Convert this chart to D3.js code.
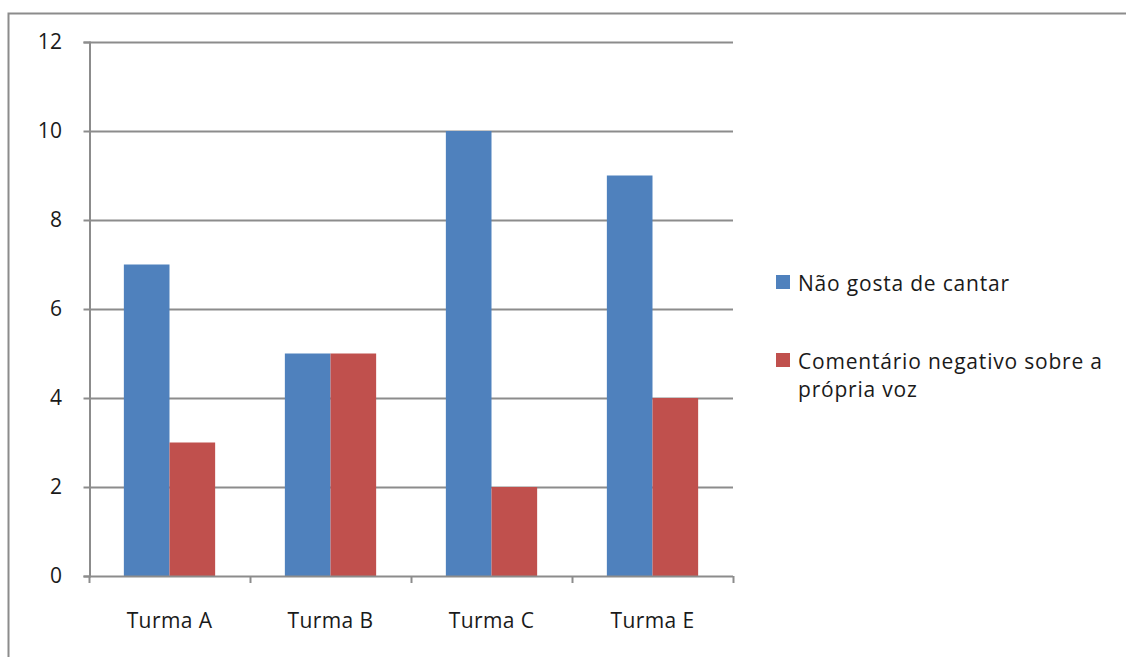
<!DOCTYPE html>
<html>
<head>
<meta charset="utf-8">
<script src="https://cdn.jsdelivr.net/npm/d3@7"></script>
<style>
  html, body { margin: 0; padding: 0; background: #fff; }
  svg { display: block; }
  text { font-family: "Open Sans", Lato, sans-serif; fill: #1a1a1a; }
</style>
</head>
<body>
<svg id="chart" width="1126" height="657"></svg>
<script>
// Data
const categories = ["Turma A", "Turma B", "Turma C", "Turma E"];
const seriesNames = ["Não gosta de cantar", "Comentário negativo sobre a própria voz"];
const naoGosta = [7, 5, 10, 9];
const comentarioNegativo = [3, 5, 2, 4];
const yTicks = [0, 2, 4, 6, 8, 10, 12];
const colors = ["#4F81BD", "#C0504D"];

const svg = d3.select("#chart");
const W = 1126, H = 657;
const FONT = "21px";

// Outer chart frame
svg.append("path")
  .attr("d", `M8.5,${H} V13.5 H${W}`)
  .attr("fill", "none")
  .attr("stroke", "#8c8c8c")
  .attr("stroke-width", 2);

const plot = { left: 89, right: 733, top: 42, bottom: 576 };

const x = d3.scaleBand()
  .domain(categories)
  .range([plot.left, plot.right])
  .paddingInner(0.433)
  .paddingOuter(0.2165);

const x1 = d3.scaleBand()
  .domain([0, 1])
  .range([0, x.bandwidth()]);

const y = d3.scaleLinear()
  .domain([0, 12])
  .range([plot.bottom, plot.top]);

// Horizontal gridlines
svg.append("g")
  .selectAll("line")
  .data(yTicks.filter(d => d > 0))
  .join("line")
  .attr("x1", plot.left)
  .attr("x2", plot.right)
  .attr("y1", d => Math.round(y(d)) + 0.5)
  .attr("y2", d => Math.round(y(d)) + 0.5)
  .attr("stroke", "#8c8c8c")
  .attr("stroke-width", 2);

// Bars
const rows = categories.map((c, i) => ({ cat: c, vals: [naoGosta[i], comentarioNegativo[i]] }));
const groups = svg.append("g")
  .selectAll("g")
  .data(rows)
  .join("g")
  .attr("transform", d => `translate(${x(d.cat)},0)`);

groups.selectAll("rect")
  .data(d => d.vals.map((v, k) => ({ v, k })))
  .join("rect")
  .attr("x", d => x1(d.k))
  .attr("width", x1.bandwidth())
  .attr("y", d => y(d.v))
  .attr("height", d => y(0) - y(d.v))
  .attr("fill", d => colors[d.k]);

// Y axis
const yAxis = svg.append("g")
  .attr("transform", `translate(${plot.left + 0.5},0)`)
  .call(d3.axisLeft(y).tickValues(yTicks).tickSize(6).tickPadding(21));
yAxis.select(".domain").attr("stroke", "#8c8c8c").attr("stroke-width", 2);
yAxis.selectAll(".tick line").attr("stroke", "#8c8c8c").attr("stroke-width", 2);
yAxis.selectAll("text")
  .style("font-size", FONT)
  .style("font-family", "'Open Sans', Lato, sans-serif")
  .style("letter-spacing", "0.4px")
  .attr("fill", "#1a1a1a");

// X axis with ticks at category boundaries
const boundaries = categories.map(c => x(c) - x.step() * x.paddingInner() / 2)
  .concat([plot.right]);
boundaries[0] = plot.left;
const xAxisG = svg.append("g");
xAxisG.append("line")
  .attr("x1", plot.left).attr("x2", plot.right)
  .attr("y1", plot.bottom + 0.5).attr("y2", plot.bottom + 0.5)
  .attr("stroke", "#8c8c8c").attr("stroke-width", 2);
xAxisG.selectAll("line.tk")
  .data(boundaries)
  .join("line")
  .attr("class", "tk")
  .attr("x1", d => Math.round(d) + 0.5).attr("x2", d => Math.round(d) + 0.5)
  .attr("y1", plot.bottom).attr("y2", plot.bottom + 7)
  .attr("stroke", "#8c8c8c").attr("stroke-width", 2);
xAxisG.selectAll("text")
  .data(categories)
  .join("text")
  .attr("x", d => x(d) + x.bandwidth() / 2)
  .attr("y", 628)
  .attr("text-anchor", "middle")
  .style("font-size", FONT)
  .style("letter-spacing", "0.4px")
  .text(d => d);

// Legend
const legend = svg.append("g");
const legendItems = [
  { lines: [seriesNames[0]], y: 275 },
  { lines: ["Comentário negativo sobre a", "própria voz"], y: 353 }
];
legendItems.forEach((item, i) => {
  legend.append("rect")
    .attr("x", 776).attr("y", item.y)
    .attr("width", 14).attr("height", 14)
    .attr("fill", colors[i]);
  item.lines.forEach((ln, j) => {
    legend.append("text")
      .attr("x", 798)
      .attr("y", item.y + 16 + j * 28)
      .style("font-size", FONT)
      .style("letter-spacing", "0.8px")
      .text(ln);
  });
});
</script>
</body>
</html>
